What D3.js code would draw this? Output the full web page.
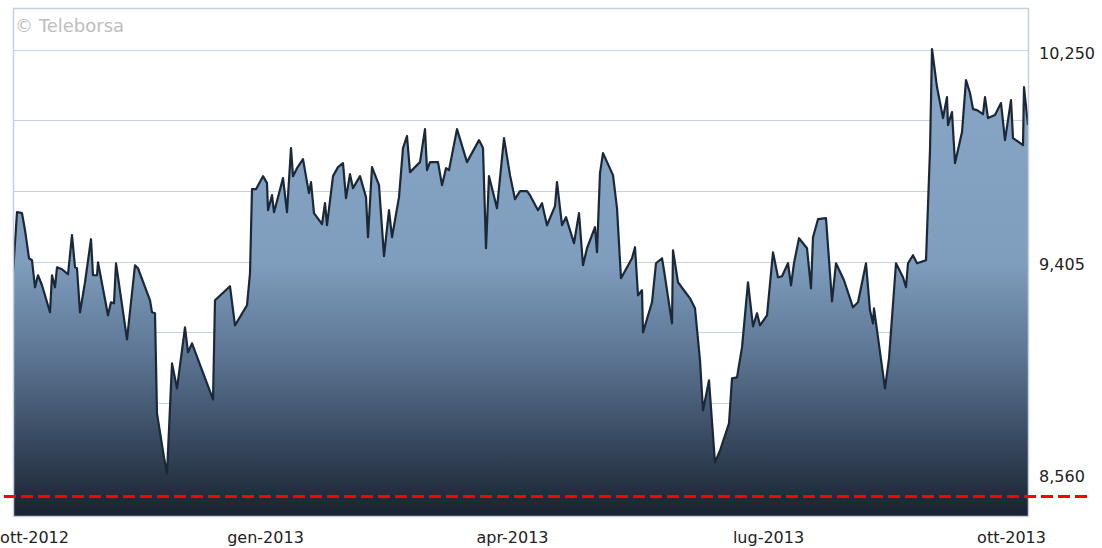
<!DOCTYPE html>
<html>
<head>
<meta charset="utf-8">
<script src="https://cdn.jsdelivr.net/npm/d3@7"></script>
<style>
  html, body { margin: 0; padding: 0; background: #ffffff; }
  svg { display: block; }
  text { font-family: "DejaVu Sans", Verdana, sans-serif; }
</style>
</head>
<body>
<svg id="chart" width="1102" height="548"></svg>
<script>
// ---- data (trading-session index and closing level) ----
const sessions = [0,1,2.25,3,4,4.75,5.5,6.25,7.25,9.25,9.75,10.5,11,12.25,13.75,14.75,15.5,16,16.75,18,19.5,20,21,21.25,23.75,24.5,25.25,25.75,28.5,30.5,31.25,34.25,34.75,35.5,36,37.75,38.5,39.75,41,43,43.75,44.75,50,50.5,54.25,55.5,58.5,59.25,59.75,60.75,62.5,63.5,63.75,64.75,65.25,66.25,67.5,68.5,69.5,70,71,72.5,73.5,74,74.5,75.25,77.25,78,78.5,80,81.25,82.5,83.25,84.25,85,86.75,88.25,88.75,89.75,91.5,92.75,94,94.75,96.5,97.5,98.5,99.25,101.75,103,103.5,104.25,106.25,107.25,108.25,109,111,113.5,116.5,117.5,118.25,119,121,122.75,124.25,125.5,126.75,128.5,129.25,131.25,132.25,133.5,135.5,136,137.25,138.25,140.25,141.5,142.5,143.5,145.5,146,146.75,147.5,150,151,152,154.75,155.5,156.25,157.25,157.5,159.75,160.75,162.25,162.75,164.75,165,166.25,169.25,170.5,171.75,172.5,174,175.5,176.75,179,179.75,181,182.25,183.75,185,186,186.75,188.5,190,191.25,192.25,193.75,194.5,195.25,196.5,198.5,199.5,200,201.25,203.25,204.75,205.75,207.75,210,211.25,213.25,214.25,215,215.25,218,219,220.75,222.5,223.25,223.75,225,226,228.25,229.25,229.75,231,232.5,233.5,233.75,234.75,235.5,237.25,238.25,239.25,240,241,242.5,243,243.75,245.5,247,248,249.5,250,252.5,252.75,253.75];
const closes = [9358,9602,9598,9530,9418,9410,9302,9350,9310,9202,9350,9302,9382,9374,9354,9510,9382,9378,9202,9322,9494,9350,9350,9402,9190,9242,9238,9398,9094,9390,9378,9250,9202,9198,8798,8622,8558,8998,8898,9142,9042,9078,8854,9250,9306,9150,9230,9358,9694,9694,9746,9718,9610,9670,9602,9662,9738,9602,9858,9746,9778,9814,9722,9678,9722,9598,9554,9638,9550,9746,9782,9798,9658,9754,9698,9746,9662,9502,9782,9710,9426,9610,9502,9662,9858,9906,9762,9802,9934,9770,9802,9802,9710,9778,9770,9934,9802,9890,9858,9458,9746,9618,9898,9750,9654,9686,9686,9670,9610,9638,9550,9626,9722,9550,9582,9478,9598,9390,9458,9542,9442,9758,9838,9750,9618,9338,9418,9462,9270,9290,9122,9242,9398,9418,9370,9158,9450,9322,9258,9218,9010,8810,8930,8602,8650,8758,8938,8942,9062,9322,9146,9198,9150,9190,9442,9342,9346,9398,9310,9398,9498,9458,9298,9502,9574,9578,9246,9398,9330,9222,9242,9398,9210,9158,9218,8898,9018,9398,9342,9302,9398,9430,9398,9410,9850,10254,10102,9978,10062,9950,10002,9798,9922,10130,10078,10014,10010,9994,10062,9978,9990,10038,9890,10050,9898,9870,10102,9950];

const xTickSessions = [5.25, 63, 124.75, 188.75, 249.5];
const xTickLabels = ["ott-2012", "gen-2013", "apr-2013", "lug-2013", "ott-2013"];
const yLabelValues = [10250, 9405, 8560];
const yGridCount = 6;              // grid steps between 8,560 and 10,250
const refLevel = 8466;             // red dashed reference level
const sessionDomain = [0, 254];
const watermark = "\u00A9 Teleborsa";

// ---- layout ----
const plot = { left: 13, top: 8, right: 1028, bottom: 516 };

const svg = d3.select("#chart");

const x = d3.scaleLinear().domain(sessionDomain).range([plot.left, plot.right + 1]);
const y = d3.scaleLinear().domain([8560, 10250]).range([473, 50]);

const data = sessions.map((s, i) => ({ s, v: closes[i] }));

// gradient
const defs = svg.append("defs");
const grad = defs.append("linearGradient")
  .attr("id", "fillGrad")
  .attr("gradientUnits", "userSpaceOnUse")
  .attr("x1", 0).attr("x2", 0)
  .attr("y1", plot.top).attr("y2", plot.bottom);
[[0, "#8aa8c7"], [0.5, "#7f9dbd"], [0.68, "#5d7694"], [0.84, "#3a4c63"], [1, "#19222f"]]
  .forEach(([o, c]) => grad.append("stop").attr("offset", o).attr("stop-color", c));

defs.append("clipPath").attr("id", "plotClip")
  .append("rect")
  .attr("x", plot.left).attr("y", plot.top)
  .attr("width", plot.right - plot.left).attr("height", plot.bottom - plot.top);

// background
svg.append("rect")
  .attr("x", plot.left).attr("y", plot.top)
  .attr("width", plot.right - plot.left).attr("height", plot.bottom - plot.top)
  .attr("fill", "#ffffff");

// gridlines
const gridValues = d3.range(0, yGridCount + 1).map(k => 8560 + k * (10250 - 8560) / yGridCount);
svg.append("g").selectAll("line")
  .data(gridValues)
  .join("line")
  .attr("x1", plot.left).attr("x2", plot.right)
  .attr("y1", d => Math.round(y(d)) + 0.5)
  .attr("y2", d => Math.round(y(d)) + 0.5)
  .attr("stroke", "#c6d3e3")
  .attr("stroke-width", 1.2);

// area + line
const g = svg.append("g").attr("clip-path", "url(#plotClip)");
const area = d3.area()
  .x(d => x(d.s))
  .y0(plot.bottom)
  .y1(d => y(d.v));
const line = d3.line()
  .x(d => x(d.s))
  .y(d => y(d.v));

g.append("path")
  .datum(data)
  .attr("d", area)
  .attr("fill", "url(#fillGrad)");

g.append("path")
  .datum(data)
  .attr("d", line)
  .attr("fill", "none")
  .attr("stroke", "#1a2838")
  .attr("stroke-width", 2.2)
  .attr("stroke-linejoin", "round");

// frame
svg.append("rect")
  .attr("x", plot.left + 0.5).attr("y", plot.top + 0.5)
  .attr("width", plot.right - plot.left).attr("height", plot.bottom - plot.top)
  .attr("fill", "none")
  .attr("stroke", "#c3d0e0")
  .attr("stroke-width", 1.5);

// red dashed reference line
svg.append("line")
  .attr("x1", 4).attr("x2", 1088)
  .attr("y1", y(refLevel)).attr("y2", y(refLevel))
  .attr("stroke", "#ff0000")
  .attr("stroke-width", 3)
  .attr("stroke-dasharray", "12,5");

// y axis labels (right)
const yAxis = d3.axisRight(y)
  .tickValues(yLabelValues)
  .tickFormat(d3.format(","))
  .tickSize(0)
  .tickPadding(11);
const ya = svg.append("g")
  .attr("transform", `translate(${plot.right},3)`)
  .call(yAxis);
ya.select(".domain").remove();
ya.selectAll("text")
  .attr("fill", "#222")
  .style("font-size", "16px")
  .style("font-family", "'DejaVu Sans', Verdana, sans-serif");

// x axis labels
const xAxis = d3.axisBottom(x)
  .tickValues(xTickSessions)
  .tickFormat((d, i) => xTickLabels[i])
  .tickSize(0)
  .tickPadding(16);
const xa = svg.append("g")
  .attr("transform", `translate(0,${plot.bottom})`)
  .call(xAxis);
xa.select(".domain").remove();
xa.selectAll("text")
  .attr("fill", "#222")
  .style("font-size", "16px")
  .style("font-family", "'DejaVu Sans', Verdana, sans-serif");

// watermark
svg.append("text")
  .attr("x", 15).attr("y", 32)
  .attr("fill", "#bdbdbd")
  .style("font-size", "18px")
  .text(watermark);
</script>
</body>
</html>
